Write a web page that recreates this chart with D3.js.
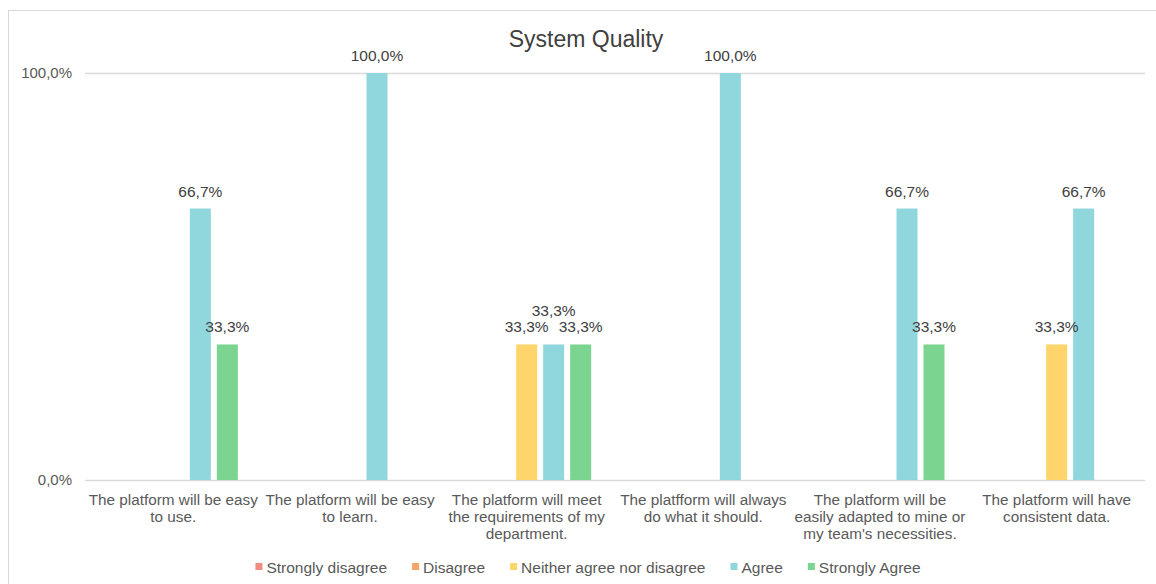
<!DOCTYPE html>
<html>
<head>
<meta charset="utf-8">
<script src="https://cdn.jsdelivr.net/npm/d3@7"></script>
<style>
  html, body { margin: 0; padding: 0; background: #ffffff; }
  svg { display: block; font-family: "Liberation Sans", Arial, sans-serif; }
</style>
</head>
<body>
<svg id="chart" width="1156" height="584"></svg>
<script>
// Survey statements (line breaks as laid out under the axis)
const categories = [
  "The platform will be easy\nto use.",
  "The platform will be easy\nto learn.",
  "The platform will meet\nthe requirements of my\ndepartment.",
  "The platfform will always\ndo what it should.",
  "The platform will be\neasily adapted to mine or\nmy team's necessities.",
  "The platform will have\nconsistent data."
];

const seriesNames = ["Strongly disagree", "Disagree", "Neither agree nor disagree", "Agree", "Strongly Agree"];
const seriesColors = ["#f28b82", "#f7a46b", "#fdd56a", "#8fd6dd", "#7bd591"];

// Share of answers (%) per statement
const stronglyDisagree = [0, 0, 0, 0, 0, 0];
const disagree         = [0, 0, 0, 0, 0, 0];
const neither          = [0, 0, 33.3, 0, 0, 33.3];
const agree            = [66.7, 100, 33.3, 100, 66.7, 66.7];
const stronglyAgree    = [33.3, 0, 33.3, 0, 33.3, 0];

const yTicks = [0, 100];

const seriesValues = [stronglyDisagree, disagree, neither, agree, stronglyAgree];

const svg = d3.select("#chart");
const plot = { left: 85, right: 1145, top: 73, bottom: 480 };
const textColor = "#595959";
const labelColor = "#404040";

// chart frame
svg.append("rect")
  .attr("x", 8.5).attr("y", 10.5)
  .attr("width", 1170).attr("height", 600)
  .attr("fill", "#ffffff")
  .attr("stroke", "#d9d9d9").attr("stroke-width", 1);

// title
svg.append("text")
  .attr("x", 586).attr("y", 47)
  .attr("text-anchor", "middle")
  .attr("font-size", 23)
  .attr("fill", labelColor)
  .text("System Quality");

const locale = d3.formatLocale({ decimal: ",", thousands: ".", grouping: [3], currency: ["", ""] });
const fmt = v => locale.format(".1f")(v) + "%";

const y = d3.scaleLinear().domain([0, 100]).range([plot.bottom, plot.top]);
const x0 = d3.scaleBand().domain(d3.range(categories.length)).range([plot.left, plot.right]).padding(0);
const cw = x0.bandwidth();
const groupW = 135;
const x1 = d3.scaleBand().domain(d3.range(seriesNames.length))
  .range([cw / 2 - groupW / 2, cw / 2 + groupW / 2])
  .paddingInner(0.222).paddingOuter(0.111);

// gridlines
svg.append("g").selectAll("line").data(yTicks).join("line")
  .attr("x1", plot.left).attr("x2", plot.right)
  .attr("y1", d => Math.round(y(d)) + 0.5).attr("y2", d => Math.round(y(d)) + 0.5)
  .attr("stroke", "#d9d9d9").attr("stroke-width", 1.3);

// y axis labels
svg.append("g").selectAll("text").data(yTicks).join("text")
  .attr("x", 72).attr("y", d => y(d) + 5)
  .attr("text-anchor", "end")
  .attr("font-size", 15)
  .attr("fill", textColor)
  .text(d => fmt(d));

// bars
const cells = [];
seriesValues.forEach((vals, s) => {
  vals.forEach((v, c) => cells.push({ s, c, v }));
});

svg.append("g").selectAll("rect").data(cells.filter(d => d.v > 0)).join("rect")
  .attr("x", d => x0(d.c) + x1(d.s))
  .attr("y", d => y(d.v))
  .attr("width", x1.bandwidth())
  .attr("height", d => y(0) - y(d.v))
  .attr("fill", d => seriesColors[d.s]);

// value labels, lifting any label that collides with one already placed
const labelG = svg.append("g");
d3.range(categories.length).forEach(c => {
  const placed = [];
  cells.filter(d => d.c === c && d.v > 0).forEach(d => {
    const cx = x0(d.c) + x1(d.s) + x1.bandwidth() / 2;
    let by = y(d.v) - 12;
    const t = labelG.append("text")
      .attr("x", cx).attr("y", by)
      .attr("text-anchor", "middle")
      .attr("font-size", 15.5)
      .attr("fill", labelColor)
      .text(fmt(d.v));
    const w = t.node().getComputedTextLength();
    const box = () => ({ l: cx - w / 2, r: cx + w / 2, t: by - 12, b: by + 3 });
    for (let guard = 0; guard < 10; guard++) {
      const b = box();
      const hit = placed.find(p => b.l < p.r && b.r > p.l && b.t < p.b && b.b > p.t);
      if (!hit) break;
      by = hit.t - 4;
    }
    t.attr("y", by);
    placed.push(box());
  });
});

// category labels
const catG = svg.append("g");
categories.forEach((label, c) => {
  const lines = label.split("\n");
  const t = catG.append("text")
    .attr("text-anchor", "middle")
    .attr("font-size", 15.3)
    .attr("fill", textColor);
  lines.forEach((ln, i) => {
    t.append("tspan")
      .attr("x", x0(c) + cw / 2)
      .attr("y", 505 + i * 17)
      .text(ln);
  });
});

// legend
const legend = svg.append("g");
const items = [];
let cursor = 0;
seriesNames.forEach((name, i) => {
  const g = legend.append("g");
  g.append("rect").attr("x", 0).attr("y", -10).attr("width", 7).attr("height", 7).attr("fill", seriesColors[i]);
  const t = g.append("text").attr("x", 11).attr("y", 0).attr("font-size", 15.5).attr("fill", textColor).text(name);
  const w = 11 + t.node().getComputedTextLength();
  items.push({ g, offset: cursor });
  cursor += w + 25;
});
const totalW = cursor - 25;
const lx = 588 - totalW / 2;
items.forEach(it => it.g.attr("transform", `translate(${lx + it.offset},573)`));
</script>
</body>
</html>
